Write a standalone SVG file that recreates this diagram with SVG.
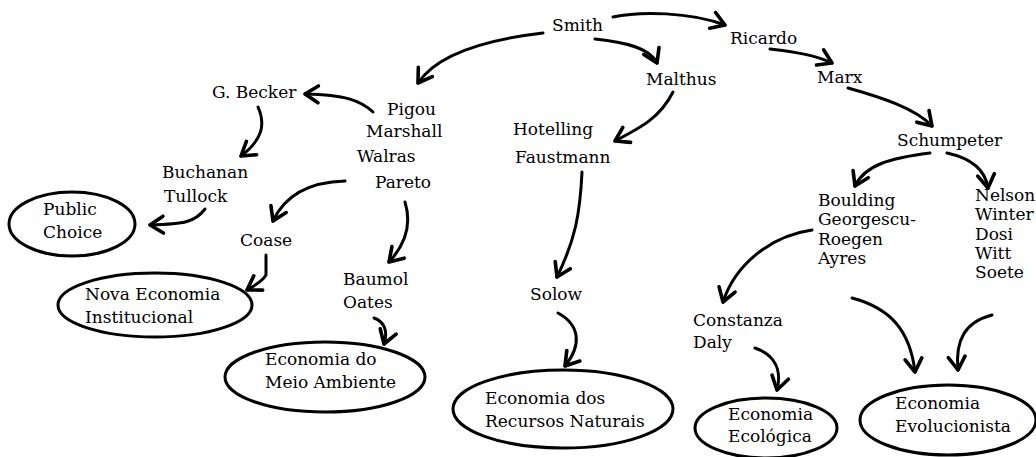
<svg xmlns="http://www.w3.org/2000/svg" width="1036" height="457" viewBox="0 0 1036 457">
<style>
text{font-family:"DejaVu Serif","Liberation Serif",serif;font-size:17px;fill:#000}
.c{fill:none;stroke:#000;stroke-width:3;stroke-linecap:round;stroke-linejoin:round}
.e{fill:#fff;stroke:#000;stroke-width:3}
</style>
<defs>
<marker id="a" markerUnits="userSpaceOnUse" markerWidth="24" markerHeight="24" viewBox="-14 -10 18 20" refX="0" refY="0" orient="auto">
<path d="M-11,-7 L0,0 L-11,7" fill="none" stroke="#000" stroke-width="3" stroke-linecap="round" stroke-linejoin="round"/>
</marker>
</defs>
<rect width="1036" height="457" fill="#fff"/>
<g id="connectors" class="c" marker-end="url(#a)">
<path d="M543,33 C500,38 440,50 418,83"/>
<path d="M595,39 C625,42 650,48 657,63"/>
<path d="M613,17 C640,11 690,12 725,25"/>
<path d="M770,49 C795,52 815,55 832,63"/>
<path d="M848,88 C880,97 915,108 932,126"/>
<path d="M930,153 C890,158 865,165 855,186"/>
<path d="M947,153 C970,158 985,168 988,188"/>
<path d="M673,92 C660,118 640,128 615,141"/>
<path d="M582,172 C580,215 575,240 557,277"/>
<path d="M558,313 C580,325 582,345 565,366"/>
<path d="M373,112 C360,100 345,95 305,94"/>
<path d="M258,107 C266,125 262,140 241,156"/>
<path d="M205,209 C195,222 185,224 150,225"/>
<path d="M345,181 C310,182 285,195 273,221"/>
<path d="M266,255 L266,275 C262,282 255,285 247,290"/>
<path d="M405,202 C412,225 405,245 389,262"/>
<path d="M374,318 C385,322 388,332 384,344"/>
<path d="M812,230 C770,236 735,265 723,302"/>
<path d="M755,348 C775,355 782,370 777,390"/>
<path d="M852,298 C890,308 910,330 915,372"/>
<path d="M992,315 C965,322 955,340 958,370"/>
</g>
<g id="smith"><text x="552" y="31">Smith</text></g>
<g id="ricardo"><text x="730" y="44">Ricardo</text></g>
<g id="malthus"><text x="646" y="85">Malthus</text></g>
<g id="marx"><text x="817" y="83">Marx</text></g>
<g id="schumpeter"><text x="897" y="146">Schumpeter</text></g>
<g id="becker"><text x="212" y="98">G. Becker</text></g>
<g id="pigou"><text x="387" y="115">Pigou</text><text x="366" y="137">Marshall</text><text x="357" y="162">Walras</text><text x="375" y="188">Pareto</text></g>
<g id="hotelling"><text x="513" y="135">Hotelling</text><text x="515" y="163">Faustmann</text></g>
<g id="buchanan"><text x="162" y="178">Buchanan</text><text x="164" y="202">Tullock</text></g>
<g id="coase"><text x="240" y="246">Coase</text></g>
<g id="baumol"><text x="343" y="285">Baumol</text><text x="343" y="308">Oates</text></g>
<g id="solow"><text x="530" y="300">Solow</text></g>
<g id="boulding"><text x="818" y="206">Boulding</text><text x="818" y="225">Georgescu-</text><text x="818" y="245">Roegen</text><text x="818" y="264">Ayres</text></g>
<g id="nelson"><text x="975" y="201">Nelson</text><text x="975" y="220">Winter</text><text x="975" y="240">Dosi</text><text x="975" y="259">Witt</text><text x="975" y="278">Soete</text></g>
<g id="constanza"><text x="693" y="326">Constanza</text><text x="693" y="348">Daly</text></g>
<g id="public-choice"><ellipse class="e" cx="72" cy="224" rx="63" ry="32"/><text x="43" y="215">Public</text><text x="43" y="238">Choice</text></g>
<g id="nova-economia"><ellipse class="e" cx="155" cy="305" rx="97" ry="32"/><text x="85" y="300">Nova Economia</text><text x="85" y="323">Institucional</text></g>
<g id="meio-ambiente"><ellipse class="e" cx="325" cy="377" rx="100" ry="35"/><text x="265" y="365">Economia do</text><text x="265" y="388">Meio Ambiente</text></g>
<g id="recursos-naturais"><ellipse class="e" cx="563" cy="409" rx="110" ry="39"/><text x="485" y="404">Economia dos</text><text x="485" y="427">Recursos Naturais</text></g>
<g id="ecologica"><ellipse class="e" cx="766" cy="428" rx="71" ry="30"/><text x="728" y="420">Economia</text><text x="728" y="442">Ecológica</text></g>
<g id="evolucionista"><ellipse class="e" cx="948" cy="420" rx="88" ry="35"/><text x="895" y="409">Economia</text><text x="895" y="432">Evolucionista</text></g>
</svg>
